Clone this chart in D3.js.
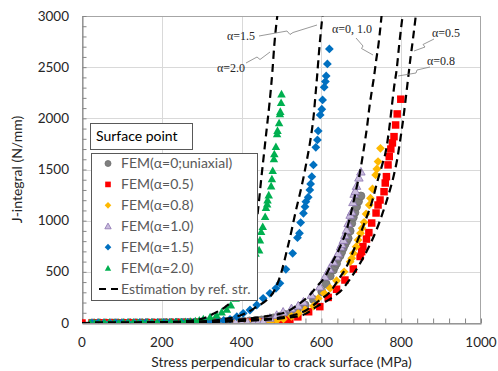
<!DOCTYPE html>
<html>
<head>
<meta charset="utf-8">
<script src="https://cdn.jsdelivr.net/npm/d3@7"></script>
<style>
	body { margin:0; background:#FFFFFF; }
	svg { display:block; }
</style>
</head>
<body>
<div id="chart"></div>
<script>
// ticks
let stressTicks = [ 0, 200, 400, 600, 800, 1000 ] ;
let jTicks = [ 0, 500, 1000, 1500, 2000, 2500, 3000 ] ;

// FEM results [stress MPa, J N/mm]
let femA0 = [ [30,0],[45,0],[60,1],[75,1],[90,1],[105,1],[120,2],[135,2],[150,2],[165,3],[180,3],[195,3],[210,4],[225,4],[240,5],[255,5],[270,6],[285,7],[300,8],[315,9],[330,10],[345,11],[360,12],[375,14],[390,16],[405,18],[420,20],[435,24],[450,30],[465,38],[480,50],[495,65],[510,82],[525,105],[540,135],[559,176],[580,230],[601,306],[612,380],[622,460],[630,518],[634,555],[638,583],[642,632],[647,660],[651,697],[655,735],[659,770],[663,800],[667,828],[672,900],[676,975],[680,1033],[684,1080],[688,1137],[693,1190],[699,1241] ] ;
let femA05 = [ [0,0],[25,1],[40,1],[55,1],[70,1],[85,1],[100,2],[115,2],[130,2],[145,2],[160,3],[175,3],[190,3],[205,3],[220,4],[235,4],[250,4],[265,5],[280,5],[295,5],[310,6],[325,6],[340,6],[355,7],[370,7],[385,7],[400,8],[415,8],[430,8],[445,9],[460,9],[475,10],[490,12],[505,15],[521,30],[541,60],[568,110],[596,160],[617,250],[638,330],[659,420],[680,528],[697,650],[701,697],[704,746],[713,820],[719,883],[726,977],[737,1075],[742,1153],[747,1202],[757,1283],[760,1368],[763,1430],[767,1545],[770,1626],[774,1700],[778,1760],[782,1821],[786,1935],[790,2043],[799,2187] ] ;
let femA08 = [ [25,0],[40,1],[55,1],[70,1],[85,1],[100,1],[115,2],[130,2],[145,2],[160,2],[175,3],[190,3],[205,3],[220,3],[235,4],[250,4],[265,4],[280,5],[295,5],[310,5],[325,6],[340,6],[355,7],[370,7],[385,8],[400,8],[415,9],[430,10],[445,11],[460,13],[474,16],[488,25],[505,40],[525,65],[542,95],[559,130],[580,165],[592,240],[607,290],[622,340],[638,413],[657,500],[672,599],[676,632],[680,681],[687,746],[692,811],[698,877],[702,926],[707,984],[712,1066],[720,1153],[723,1219],[728,1310],[736,1447],[739,1505],[742,1577],[748,1707] ] ;
let femA10 = [ [25,0],[40,0],[55,0],[70,1],[85,1],[100,1],[115,1],[130,1],[145,2],[160,2],[175,2],[190,2],[205,3],[220,3],[235,3],[250,3],[265,4],[280,4],[295,4],[310,5],[325,5],[340,5],[355,6],[370,6],[385,7],[400,7],[415,8],[430,9],[442,10],[454,16],[471,50],[488,78],[504,110],[525,143],[542,170],[555,208],[575,274],[596,355],[609,453],[620,530],[630,599],[638,650],[642,681],[648,746],[651,770],[655,811],[659,860],[663,909],[667,975],[672,1056],[676,1088],[679,1180],[682,1261],[685,1290],[688,1339],[694,1420],[699,1479] ] ;
let femA15 = [ [25,1],[40,1],[55,1],[70,1],[85,2],[100,2],[115,2],[130,2],[145,3],[160,3],[175,3],[190,4],[205,4],[220,4],[235,5],[250,5],[265,6],[280,7],[295,8],[310,10],[325,13],[340,18],[355,26],[371,36],[388,62],[404,95],[421,127],[438,176],[454,241],[471,290],[486,339],[496,388],[511,525],[528,681],[540,834],[545,877],[548,981],[555,1072],[559,1137],[561,1186],[567,1229],[571,1300],[573,1359],[576,1430],[580,1545],[586,1717],[590,1789],[592,1877],[597,2033],[601,2089],[603,2180],[607,2304],[610,2359],[612,2414],[615,2532],[620,2678] ] ;
let femA20 = [ [20,2],[32,2],[44,2],[56,3],[68,3],[80,3],[92,3],[104,4],[116,4],[128,4],[140,5],[152,5],[164,5],[176,6],[188,6],[200,7],[212,7],[224,8],[236,9],[248,10],[260,12],[272,15],[284,20],[294,28],[304,39],[321,59],[337,78],[350,107],[363,134],[373,176],[385,240],[396,320],[406,420],[416,520],[426,610],[435,680],[444,713],[446,811],[449,892],[453,941],[459,1039],[461,1127],[464,1163],[465,1202],[468,1251],[474,1339],[476,1408],[478,1489],[481,1603],[482,1652],[486,1723],[489,1848],[490,1880],[494,1955],[496,2043],[497,2066],[499,2153],[500,2238] ] ;

// estimation by reference stress
let estA0A10 = [ [0,0],[200,4],[300,12],[400,35],[460,65],[513,110],[546,193],[571,274],[588,355],[609,453],[626,583],[647,746],[663,909],[676,1105],[688,1320],[697,1480],[703,1620],[709,1770],[715,1935],[720,2100],[726,2260],[732,2410],[737,2560],[743,2720],[752,3050] ] ;
let estA05 = [ [0,0],[200,3],[300,8],[400,20],[500,45],[555,80],[588,160],[630,257],[651,323],[670,420],[692,550],[715,713],[737,900],[754,1080],[768,1250],[780,1420],[790,1600],[798,1800],[805,1990],[811,2180],[817,2380],[823,2580],[829,2760],[838,3050] ] ;
let estA08 = [ [0,0],[200,4],[300,10],[400,25],[500,55],[563,127],[596,225],[622,306],[642,420],[663,550],[681,713],[698,877],[714,1040],[728,1200],[740,1380],[752,1540],[763,1710],[770,1900],[776,2100],[782,2300],[789,2490],[795,2720],[805,3050] ] ;
let estA15 = [ [0,0],[200,5],[300,15],[360,40],[413,100],[438,160],[463,225],[484,330],[500,500],[513,700],[525,900],[535,1080],[546,1260],[555,1420],[563,1580],[570,1730],[576,1880],[581,2040],[585,2220],[589,2400],[593,2600],[597,2780],[604,3050] ] ;
let estA20 = [ [0,0],[150,3],[250,15],[300,40],[329,90],[360,160],[378,225],[400,380],[420,620],[435,900],[443,1170],[449,1400],[456,1650],[463,1900],[470,2150],[477,2450],[482,2717],[491,3050] ] ;

let legendLabels = [ "FEM(α=0;uniaxial)", "FEM(α=0.5)", "FEM(α=0.8)", "FEM(α=1.0)", "FEM(α=1.5)", "FEM(α=2.0)", "Estimation by ref. str." ] ;

let W = 498, H = 371 ;
let plotL = 82, plotR = 481, plotT = 16, plotB = 323 ;
let fontSans = "Lato, 'Liberation Sans', sans-serif" ;
let fontSerif = "'Liberation Serif', 'DejaVu Serif', serif" ;

let femSeries = [
	{ data:femA0,  shape:"circle",   fill:"#7F7F7F", stroke:"#6E6E6E", size:8 },
	{ data:femA05, shape:"square",   fill:"#FF0000", stroke:"none",    size:7.5 },
	{ data:femA08, shape:"diamond",  fill:"#FFB900", stroke:"none",    size:8 },
	{ data:femA10, shape:"triangle", fill:"#C9BCDD", stroke:"#8A72B0", size:8.5 },
	{ data:femA15, shape:"diamond",  fill:"#0070C0", stroke:"none",    size:8 },
	{ data:femA20, shape:"triangle", fill:"#00B050", stroke:"none",    size:8.5 }
] ;
let estSeries = [ estA0A10, estA05, estA08, estA15, estA20 ] ;

markerPath = ( shape, s )=>{
	let h = s / 2 ;
	if ( shape == "circle" ) return d3.symbol().type(d3.symbolCircle).size( Math.PI * h * h )() ;
	if ( shape == "square" ) return "M" + (-h) + "," + (-h) + "H" + h + "V" + h + "H" + (-h) + "Z" ;
	if ( shape == "diamond" ) return "M0," + (-h*1.1) + "L" + (h*1.1) + ",0L0," + (h*1.1) + "L" + (-h*1.1) + ",0Z" ;
	return "M0," + (-h) + "L" + h + "," + (h*0.8) + "L" + (-h) + "," + (h*0.8) + "Z" ;
}

let svg = d3.select("#chart")
	.append("svg")
		.attr("width", W)
		.attr("height", H)
		.attr("font-family", fontSans)
;

let x = d3.scaleLinear().domain([0, 1000]).range([plotL, plotR]) ;
let y = d3.scaleLinear().domain([0, 3000]).range([plotB, plotT]) ;

svg.append("defs").append("clipPath")
	.attr("id", "plotClip")
	.append("rect")
		.attr("x", plotL)
		.attr("y", plotT)
		.attr("width", plotR - plotL)
		.attr("height", plotB - plotT)
;

// grid
svg.append("g")
	.attr("stroke", "#D9D9D9")
	.attr("stroke-width", 1)
	.selectAll("line")
	.data(stressTicks.slice(1, -1)).enter().append("line")
		.attr("x1", (d)=>{ return Math.round(x(d)) + 0.5; })
		.attr("x2", (d)=>{ return Math.round(x(d)) + 0.5; })
		.attr("y1", plotT)
		.attr("y2", plotB)
;
svg.append("g")
	.attr("stroke", "#D9D9D9")
	.attr("stroke-width", 1)
	.selectAll("line")
	.data(jTicks.slice(1, -1)).enter().append("line")
		.attr("x1", plotL)
		.attr("x2", plotR)
		.attr("y1", (d)=>{ return Math.round(y(d)) + 0.5; })
		.attr("y2", (d)=>{ return Math.round(y(d)) + 0.5; })
;

// plot frame
svg.append("rect")
	.attr("x", plotL + 0.5)
	.attr("y", plotT + 0.5)
	.attr("width", plotR - plotL - 1)
	.attr("height", plotB - plotT)
	.attr("fill", "none")
	.attr("stroke", "#A6A6A6")
	.attr("stroke-width", 1)
;

// axes
let xAxis = d3.axisBottom(x)
	.tickValues(d3.range(0, 1001, 40))
	.tickSizeInner(-5)
	.tickSizeOuter(0)
	.tickFormat("")
;
let gx = svg.append("g")
	.attr("transform", "translate(0," + (plotB + 0.5) + ")")
	.call(xAxis)
;
gx.select(".domain").attr("stroke", "#868686") ;
gx.selectAll(".tick line").attr("stroke", "#868686") ;

let yAxis = d3.axisLeft(y)
	.tickValues(d3.range(0, 3001, 100))
	.tickSizeInner(-4)
	.tickSizeOuter(0)
	.tickFormat("")
;
let gy = svg.append("g")
	.attr("transform", "translate(" + (plotL + 0.5) + ",0)")
	.call(yAxis)
;
gy.select(".domain").attr("stroke", "#868686") ;
gy.selectAll(".tick line").attr("stroke", "#868686") ;

svg.append("g")
	.selectAll("text")
	.data(stressTicks).enter().append("text")
		.attr("x", (d)=>{ return x(d); })
		.attr("y", 347)
		.attr("text-anchor", "middle")
		.attr("font-size", "13.5px")
		.attr("fill", "#262626")
		.text((d)=>{ return d; })
;
svg.append("g")
	.selectAll("text")
	.data(jTicks).enter().append("text")
		.attr("x", 69)
		.attr("y", (d)=>{ return y(d) + 4.5; })
		.attr("text-anchor", "end")
		.attr("font-size", "13.5px")
		.attr("fill", "#262626")
		.text((d)=>{ return d; })
;

svg.append("text")
	.attr("x", (plotL + plotR) / 2)
	.attr("y", 367)
	.attr("text-anchor", "middle")
	.attr("font-size", "13.8px")
	.attr("fill", "#262626")
	.text("Stress perpendicular to crack surface (MPa)")
;
svg.append("text")
	.attr("transform", "translate(22," + ((plotT + plotB) / 2) + ") rotate(-90)")
	.attr("text-anchor", "middle")
	.attr("font-size", "14px")
	.attr("fill", "#262626")
	.text("J-integral (N/mm)")
;

// FEM markers
let dataG = svg.append("g").attr("clip-path", "url(#plotClip)") ;
femSeries.forEach((ser)=>{
	dataG.append("g")
		.selectAll("path")
		.data(ser.data).enter().append("path")
			.attr("d", markerPath(ser.shape, ser.size))
			.attr("transform", (d)=>{ return "translate(" + x(d[0]) + "," + y(d[1]) + ")"; })
			.attr("fill", ser.fill)
			.attr("stroke", ser.stroke)
			.attr("stroke-width", 0.8)
	;
});

// estimation curves
let estLine = d3.line()
	.x((d)=>{ return x(d[0]); })
	.y((d)=>{ return y(d[1]); })
	.curve(d3.curveMonotoneX)
;
dataG.append("g")
	.selectAll("path")
	.data(estSeries).enter().append("path")
		.attr("d", estLine)
		.attr("fill", "none")
		.attr("stroke", "#000000")
		.attr("stroke-width", 2.2)
		.attr("stroke-dasharray", "8,5")
;

// callouts
let callouts = [
	{ text:"α=1.5",    tx:227, ty:40, pts:[[259,36],[287,31],[290,34.5],[293,32.5],[317,25]] },
	{ text:"α=2.0",    tx:217, ty:72, pts:[[246,63],[257,57],[260,59.5],[270,52]] },
	{ text:"α=0, 1.0", tx:332, ty:33, pts:[[356,38],[363,46],[361.5,48.5],[373,55]] },
	{ text:"α=0.5",    tx:432, ty:37, pts:[[434,39],[423,44.5],[425,47],[414,51]] },
	{ text:"α=0.8",    tx:427, ty:65, pts:[[430,67],[417,70],[416,73],[398,76]] }
] ;
let calloutG = svg.append("g") ;
calloutG.selectAll("path")
	.data(callouts).enter().append("path")
		.attr("d", (d)=>{ return d3.line()(d.pts); })
		.attr("fill", "none")
		.attr("stroke", "#7F7F7F")
		.attr("stroke-width", 0.8)
;
calloutG.selectAll("text")
	.data(callouts).enter().append("text")
		.attr("x", (d)=>{ return d.tx; })
		.attr("y", (d)=>{ return d.ty; })
		.attr("font-family", fontSerif)
		.attr("font-size", "12px")
		.attr("fill", "#262626")
		.text((d)=>{ return d.text; })
;

// legend
let titleG = svg.append("g") ;
titleG.append("rect")
	.attr("x", 90.5).attr("y", 123.5)
	.attr("width", 102).attr("height", 26)
	.attr("fill", "#FFFFFF")
	.attr("stroke", "#595959")
	.attr("stroke-width", 1)
;
titleG.append("text")
	.attr("x", 96).attr("y", 141)
	.attr("font-size", "14px")
	.attr("fill", "#000000")
	.text("Surface point")
;

let legG = svg.append("g") ;
legG.append("rect")
	.attr("x", 91.5).attr("y", 153.5)
	.attr("width", 166).attr("height", 147)
	.attr("fill", "#FFFFFF")
	.attr("stroke", "#595959")
	.attr("stroke-width", 1)
;
let legY = d3.scalePoint().domain(d3.range(legendLabels.length)).range([163.5, 289]) ;
let legItems = legG.selectAll("g.item")
	.data(legendLabels).enter().append("g")
		.attr("class", "item")
		.attr("transform", (d, i)=>{ return "translate(0," + legY(i) + ")"; })
;
legItems.append("text")
	.attr("x", 121)
	.attr("y", 4.8)
	.attr("font-size", "14px")
	.attr("fill", "#595959")
	.text((d)=>{ return d; })
;
legItems.filter((d, i)=>{ return i < femSeries.length; })
	.append("path")
		.attr("transform", "translate(108,0)")
		.attr("d", (d, i)=>{ return markerPath(femSeries[i].shape, femSeries[i].size * 0.75); })
		.attr("fill", (d, i)=>{ return femSeries[i].fill; })
		.attr("stroke", (d, i)=>{ return femSeries[i].stroke; })
		.attr("stroke-width", 0.8)
;
legItems.filter((d, i)=>{ return i == femSeries.length; })
	.append("line")
		.attr("x1", 99).attr("x2", 118)
		.attr("y1", 0).attr("y2", 0)
		.attr("stroke", "#000000")
		.attr("stroke-width", 2)
		.attr("stroke-dasharray", "7,5")
;
</script>
</body>
</html>
